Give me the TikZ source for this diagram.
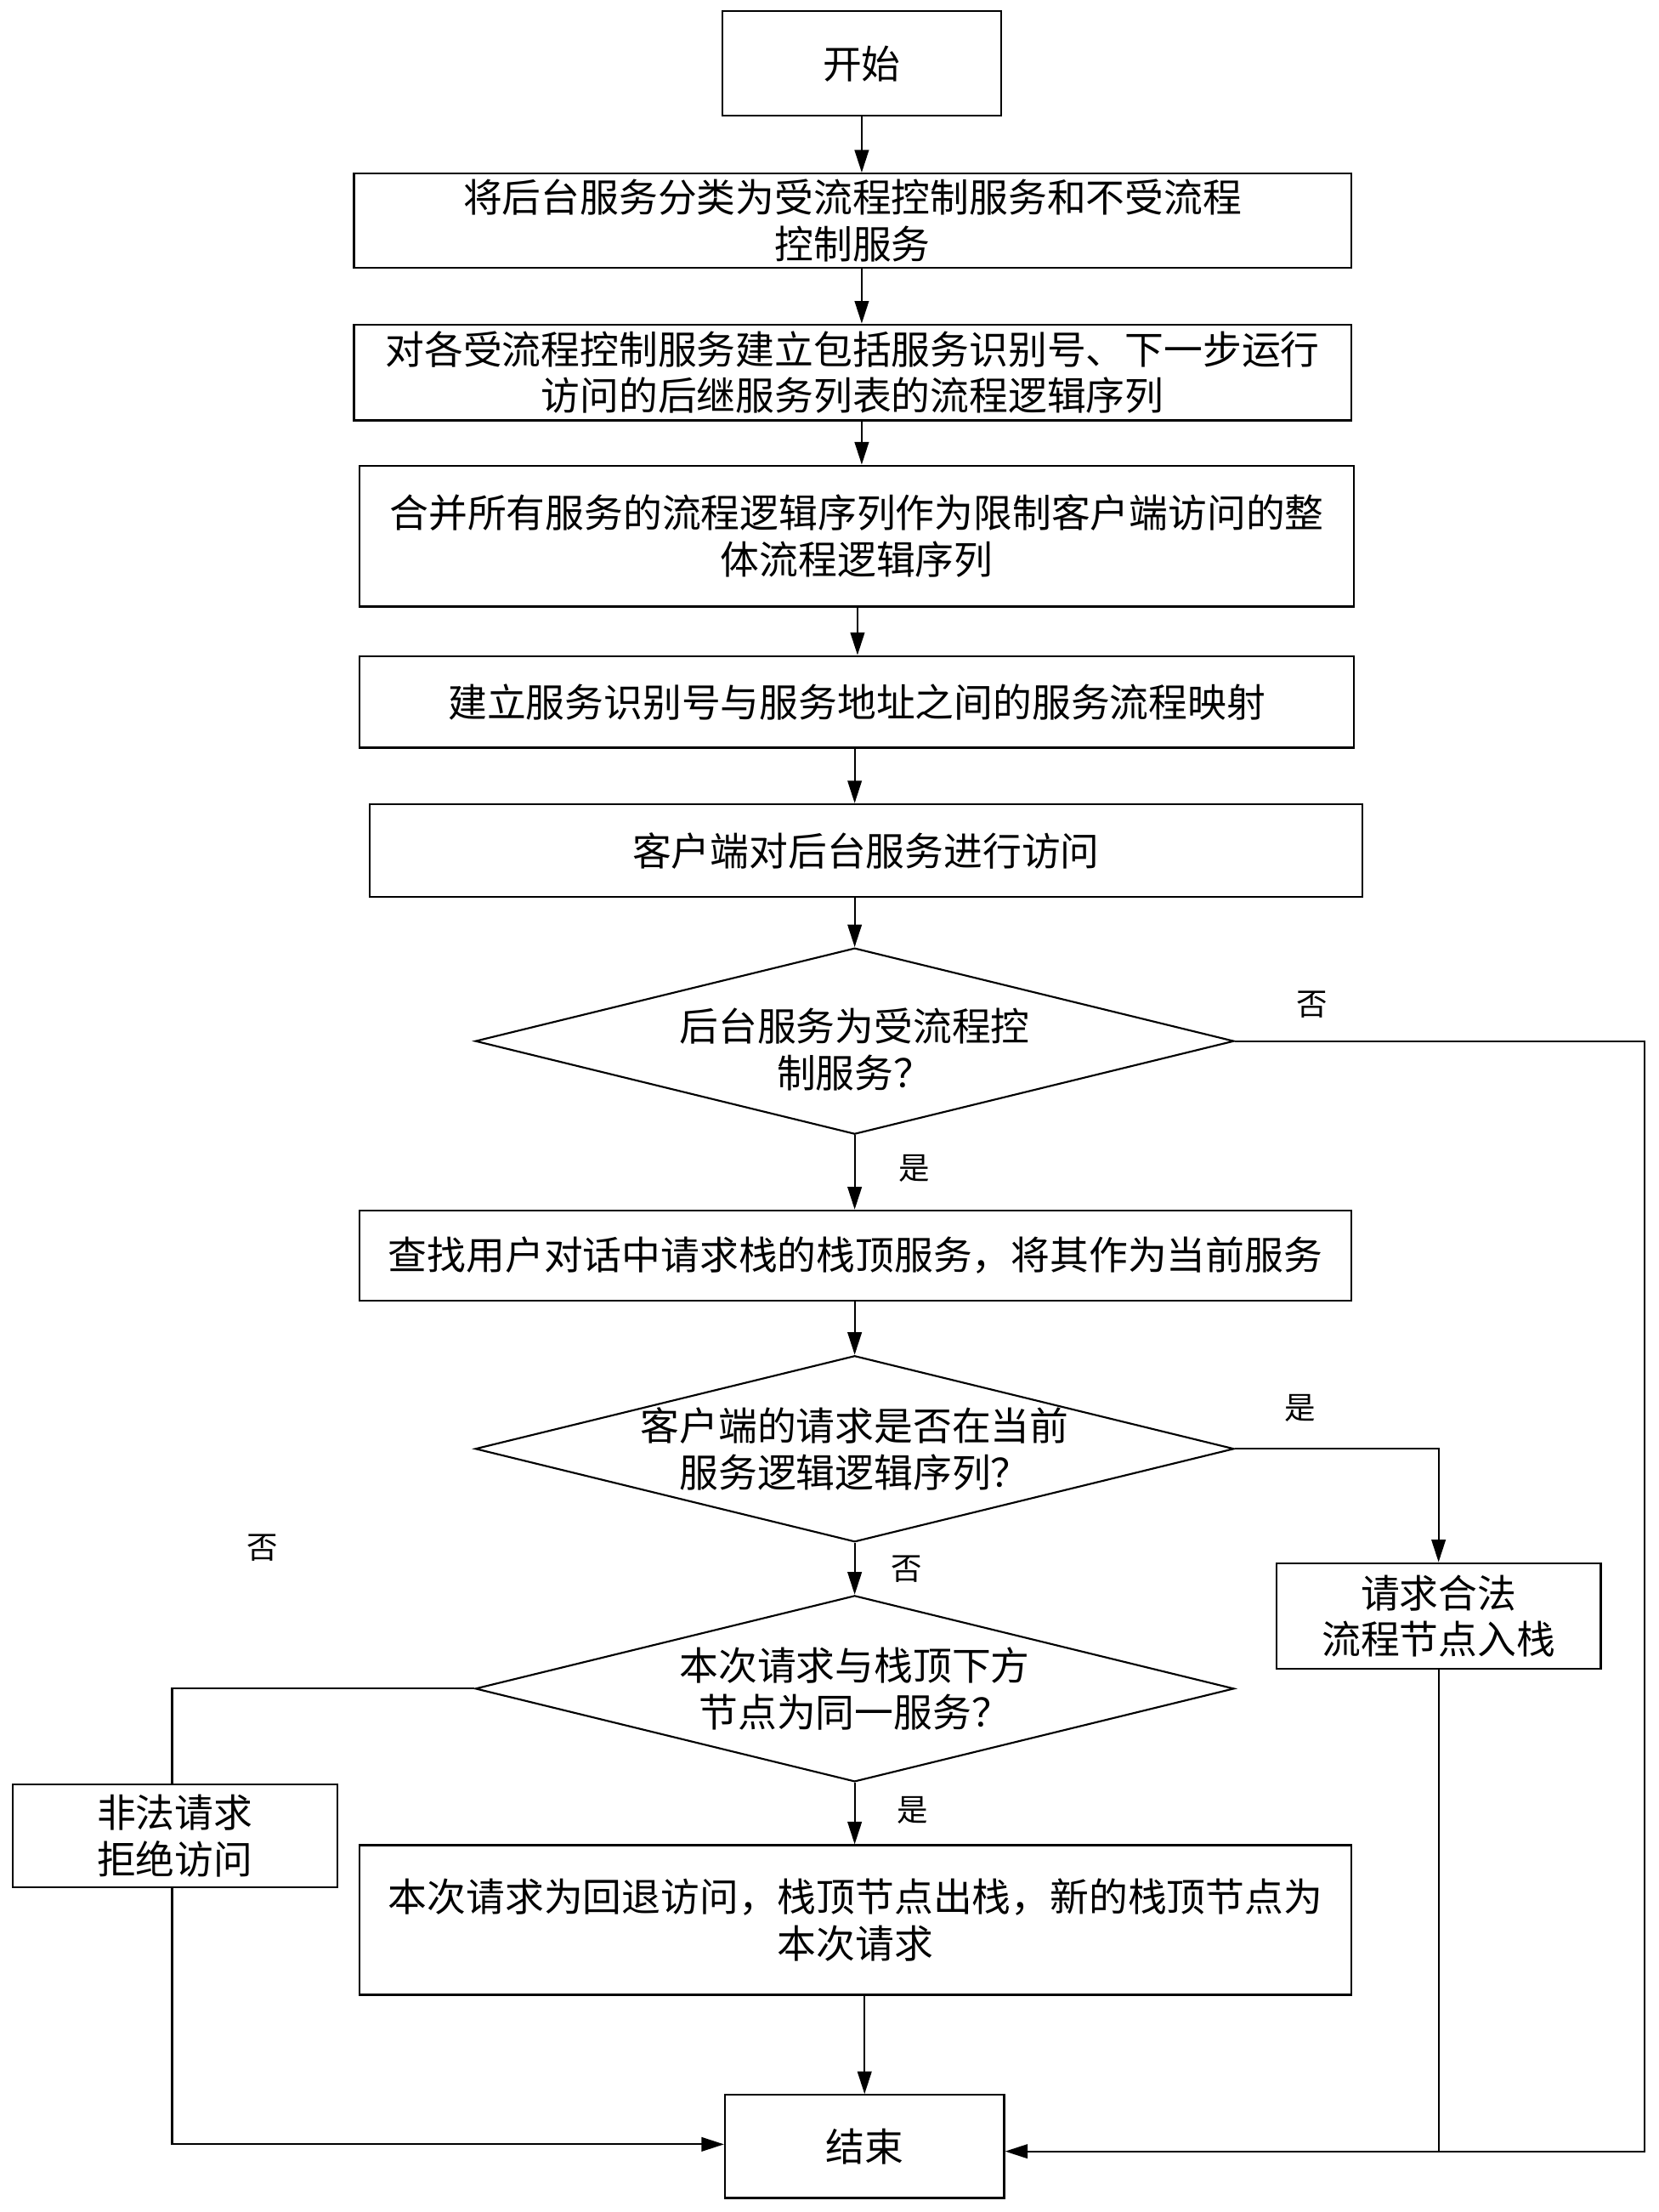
\documentclass[tikz,border=0pt]{standalone}
\usepackage{fontspec}
\newfontfamily\cjk{Noto Sans CJK SC}
\usetikzlibrary{shapes.geometric,arrows.meta}
\begin{document}
\begin{tikzpicture}[x=1pt,y=-1pt,
  box/.style={draw,line width=1.3pt,rectangle,inner sep=0pt,align=center,font=\cjk\fontsize{27.6}{33}\selectfont},
  dia/.style={draw,line width=1.3pt,diamond,aspect=4,inner sep=0pt,minimum width=538pt,minimum height=132pt},
  dtxt/.style={align=center,inner sep=0pt,font=\cjk\fontsize{27.6}{33}\selectfont},
  lab/.style={inner sep=0pt,font=\cjk\fontsize{22}{26}\selectfont},
  arr/.style={line width=1.3pt,-{Triangle[length=16pt,width=10pt]}},
  ln/.style={line width=1.3pt}]
\useasboundingbox (0,0) rectangle (1176,1568);
\node[box,minimum width=198pt,minimum height=74pt] (start) at (611,45) {开始};
\node[box,minimum width=707pt,minimum height=67pt] (b1) at (604.5,156.5) {将后台服务分类为受流程控制服务和不受流程\\控制服务};
\node[box,minimum width=707pt,minimum height=68pt] (b2) at (604.5,264) {对各受流程控制服务建立包括服务识别号、下一步运行\\访问的后继服务列表的流程逻辑序列};
\node[box,minimum width=705pt,minimum height=100pt] (b3) at (607.5,380) {合并所有服务的流程逻辑序列作为限制客户端访问的整\\体流程逻辑序列};
\node[box,minimum width=705pt,minimum height=65pt] (b4) at (607.5,497.5) {建立服务识别号与服务地址之间的服务流程映射};
\node[box,minimum width=704pt,minimum height=66pt] (b5) at (614,603) {客户端对后台服务进行访问};
\node[dia] (d1) at (606,738) {};
\node[dtxt] (d1t) at (606,744) {后台服务为受流程控\\制服务？};
\node[box,minimum width=703pt,minimum height=64pt] (b6) at (606.5,890) {查找用户对话中请求栈的栈顶服务，将其作为当前服务};
\node[dia] (d2) at (606,1027) {};
\node[dtxt] (d2t) at (606,1027) {客户端的请求是否在当前\\服务逻辑逻辑序列？};
\node[dia] (d3) at (606,1197) {};
\node[dtxt] (d3t) at (606,1197) {本次请求与栈顶下方\\节点为同一服务？};
\node[box,minimum width=230pt,minimum height=75pt] (b7) at (1020,1145.5) {请求合法\\流程节点入栈};
\node[box,minimum width=230pt,minimum height=73pt] (b8) at (124,1301.5) {非法请求\\拒绝访问};
\node[box,minimum width=703pt,minimum height=106pt] (b9) at (606.5,1361) {本次请求为回退访问，栈顶节点出栈，新的栈顶节点为\\本次请求};
\node[box,minimum width=198pt,minimum height=73pt] (end) at (613,1521.5) {结束};

\coordinate (c1) at (611,0);
\coordinate (c2) at (608,0);
\coordinate (c3) at (606,0);
\coordinate (rc) at (1166,1525);
\coordinate (lc) at (122,1520);

\draw[arr] (start.south) -- (start.south |- b1.north);
\draw[arr] (b1.south -| c1) -- (b2.north -| c1);
\draw[arr] (b2.south -| c1) -- (b3.north -| c1);
\draw[arr] (b3.south -| c2) -- (b4.north -| c2);
\draw[arr] (b4.south -| c3) -- (b5.north -| c3);
\draw[arr] (b5.south -| d1.north) -- (d1.north);
\draw[arr] (d1.south) -- (d1.south |- b6.north);
\draw[arr] (b6.south -| d2.north) -- (d2.north);
\draw[arr] (d2.south) -- (d3.north);
\draw[arr] (d3.south) -- (d3.south |- b9.north);
\draw[arr] (b9.south -| end.north) -- (end.north);

\draw[arr] (d1.east) -| (rc) -- (rc -| end.east);
\draw[arr] (d2.east) -| (b7.north);
\draw[ln] (b7.south) -- (b7.south |- rc);
\draw[ln] (d3.west) -| (b8.north -| lc);
\draw[arr] (b8.south -| lc) -- (lc) -- (lc -| end.west);

\node[lab] (l1) at (930,712) {否};
\node[lab] (l2) at (648,828) {是};
\node[lab] (l3) at (922,998) {是};
\node[lab] (l4) at (643,1112) {否};
\node[lab] (l5) at (186,1097) {否};
\node[lab] (l6) at (647,1283) {是};
\end{tikzpicture}
\end{document}
